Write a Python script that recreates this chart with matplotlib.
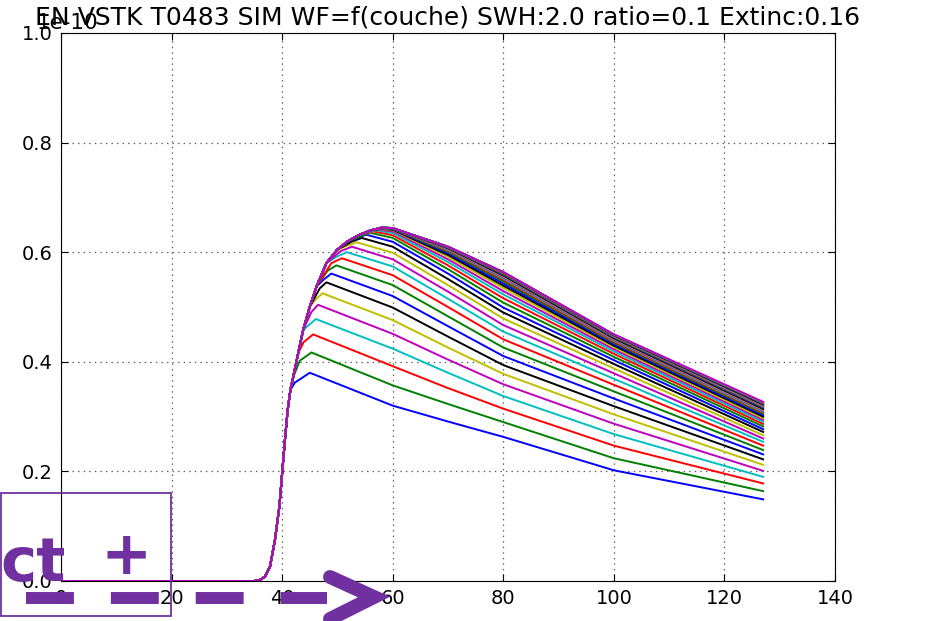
import matplotlib
matplotlib.use("Agg")
import matplotlib.pyplot as plt
from matplotlib.lines import Line2D
from matplotlib.patches import Rectangle

plt.rcParams['axes.unicode_minus'] = False
plt.rcParams['lines.scale_dashes'] = False

# leading edge shared by every layer waveform (gate index, amplitude in 1e-10)
edge_x = [0, 35, 36, 36.9, 37.8, 38.7, 39.5, 40.0, 40.5, 41.0, 41.5, 42.0, 42.9, 43.8,
          45.0, 46.2, 48.0, 49.9, 51.7, 53.8, 56.0, 58.0]
edge_y = [0, 0, 0.002, 0.008, 0.026, 0.075, 0.136, 0.197, 0.257, 0.312, 0.349, 0.372, 0.4155, 0.458,
          0.5005, 0.537, 0.580, 0.604, 0.619, 0.631, 0.640, 0.645]

# where each curve bends off the leading edge, and its maximum
knee_x = [42.3, 43.2, 43.9, 44.6, 45.3, 46.0, 46.8, 47.5, 48.2, 48.9, 49.7, 50.6, 51.5, 52.5,
          53.6, 54.4, 55.1, 55.7, 56.0, 56.0, 56.0, 56.0, 56.0, 56.0, 56.0, 56.0, 56.0, 56.0,
          56.0, 56.0, 56.0, 56.0, 56.0, 56.0, 56.0, 56.0, 56.0, 56.0, 56.0, 56.0]
knee_y = [0.362, 0.402, 0.436, 0.465, 0.491, 0.513, 0.534, 0.550, 0.566, 0.580, 0.591, 0.602,
          0.611, 0.619, 0.626, 0.630, 0.634, 0.637, 0.6395, 0.640, 0.640, 0.640, 0.640, 0.640,
          0.640, 0.640, 0.640, 0.640, 0.640, 0.640, 0.640, 0.640, 0.640, 0.640, 0.640, 0.640,
          0.640, 0.640, 0.640, 0.640]
peak_x = [45.0, 45.3, 45.6, 46.1, 46.5, 47.3, 48.0, 48.9, 49.8, 50.8, 51.7, 52.6, 53.5, 54.4,
          55.2, 55.9, 56.5, 57.0, 57.4, 57.7, 57.9, 58.0, 58.0, 58.0, 58.0, 58.0, 58.0, 58.0,
          58.0, 58.0, 58.0, 58.0, 58.0, 58.0, 58.0, 58.0, 58.0, 58.0, 58.0, 58.0]
peak_y = [0.380, 0.417, 0.450, 0.478, 0.504, 0.525, 0.545, 0.561, 0.576, 0.589, 0.600, 0.610,
          0.618, 0.626, 0.632, 0.6355, 0.638, 0.640, 0.641, 0.642, 0.6425, 0.643, 0.6433, 0.6436,
          0.6438, 0.644, 0.6442, 0.6444, 0.6445, 0.6446, 0.6447, 0.6448, 0.6449, 0.645, 0.645,
          0.645, 0.645, 0.645, 0.645, 0.645]

# trailing edge samples, one list per gate
tail_x = [60, 70, 80, 100, 127]
y_60 = [0.320, 0.357, 0.392, 0.424, 0.451, 0.476, 0.499, 0.520, 0.540, 0.558, 0.574, 0.587,
        0.599, 0.610, 0.619, 0.626, 0.631, 0.635, 0.638, 0.640, 0.641, 0.642, 0.6425, 0.643,
        0.643, 0.643, 0.6435, 0.6435, 0.6435, 0.6435, 0.644, 0.644, 0.644, 0.644, 0.644, 0.644,
        0.644, 0.644, 0.644, 0.644]
y_70 = [0.291, 0.323, 0.352, 0.380, 0.404, 0.426, 0.446, 0.465, 0.483, 0.500, 0.515, 0.528,
        0.540, 0.551, 0.561, 0.569, 0.576, 0.582, 0.587, 0.5915, 0.595, 0.598, 0.6005, 0.6025,
        0.604, 0.6053, 0.6064, 0.6073, 0.608, 0.6085, 0.609, 0.6093, 0.6096, 0.6098, 0.610,
        0.610, 0.610, 0.610, 0.610, 0.610]
y_80 = [0.263, 0.290, 0.3145, 0.3375, 0.359, 0.378, 0.394, 0.4105, 0.426, 0.441, 0.455, 0.467,
        0.479, 0.490, 0.499, 0.508, 0.516, 0.523, 0.529, 0.5345, 0.539, 0.543, 0.5465, 0.5495,
        0.552, 0.5542, 0.556, 0.5575, 0.5588, 0.560, 0.561, 0.5618, 0.5624, 0.5628, 0.5631,
        0.5633, 0.5635, 0.5636, 0.5637, 0.5638]
y_100 = [0.202, 0.224, 0.247, 0.268, 0.287, 0.304, 0.319, 0.333, 0.346, 0.358, 0.369, 0.379,
         0.388, 0.396, 0.403, 0.409, 0.4145, 0.419, 0.423, 0.4265, 0.4295, 0.432, 0.4345, 0.4365,
         0.4385, 0.440, 0.4415, 0.4428, 0.444, 0.445, 0.446, 0.4468, 0.4475, 0.448, 0.4485,
         0.449, 0.4494, 0.4497, 0.450, 0.4502]
y_127 = [0.149, 0.164, 0.178, 0.190, 0.201, 0.212, 0.222, 0.231, 0.239, 0.247, 0.254, 0.260,
         0.266, 0.272, 0.277, 0.282, 0.2865, 0.2905, 0.294, 0.297, 0.300, 0.3025, 0.305, 0.307,
         0.309, 0.311, 0.3125, 0.314, 0.3155, 0.317, 0.318, 0.319, 0.320, 0.321, 0.322, 0.323,
         0.324, 0.325, 0.326, 0.327]

colors = ['b', 'g', 'r', 'c', 'm', 'y', 'k']
scale = 1e-10

W, H = 930, 621
fig = plt.figure(figsize=(W / 100, H / 100), dpi=100)
ax = fig.add_axes([61 / W, 1 - 581 / H, 774 / W, 548 / H])

tails = [y_60, y_70, y_80, y_100, y_127]
for i in range(len(peak_y)):
    # follow the common leading edge until just before the curve rolls over
    n = 0
    while n < len(edge_x) and edge_x[n] < knee_x[i] - 0.5 and edge_y[n] < knee_y[i]:
        n += 1
    xs = edge_x[:n] + [knee_x[i], peak_x[i]]
    ys = edge_y[:n] + [knee_y[i], peak_y[i]]
    for tx, col in zip(tail_x, tails):
        if tx > peak_x[i]:
            xs.append(tx)
            ys.append(col[i])
    ax.plot(xs, [v * scale for v in ys], color=colors[i % 7], lw=1.4)

ax.set_xlim(0, 140)
ax.set_ylim(0, 1.0 * scale)
ax.set_xticks(range(0, 141, 20))
ax.set_yticks([v * scale for v in [0, 0.2, 0.4, 0.6, 0.8, 1.0]])
ax.grid(True, color='0.35', linestyle=(0, (1, 3)), linewidth=0.9)
ax.tick_params(direction='in', top=True, right=True, labelsize=14, length=5, pad=6)
ax.yaxis.get_offset_text().set_fontsize(15.5)
ax.yaxis.get_offset_text().set_x(-0.031)
ax.set_title('EN VSTK T0483 SIM WF=f(couche) SWH:2.0 ratio=0.1 Extinc:0.16',
             fontsize=18, y=1.0, pad=6)

# purple overlay drawn across the lower left corner
purple = '#7030A0'


def fx(px):
    return px / W


def fy(py):
    return 1 - py / H


fig.add_artist(Rectangle((fx(0.5), fy(616)), fx(170), 123 / H, transform=fig.transFigure,
                         fill=False, edgecolor=purple, lw=1.3))
fig.text(fx(0), fy(581), 'ct', color=purple, fontsize=44, fontweight='bold',
         family='DejaVu Sans', va='baseline', ha='left')
fig.text(fx(126), fy(558), '+', color=purple, fontsize=44, fontweight='bold',
         family='DejaVu Sans', va='center', ha='center')
fig.add_artist(Line2D([fx(26), fx(327)], [fy(598), fy(598)], transform=fig.transFigure,
                      color=purple, lw=8.6, linestyle=(0, (34.5, 26.6)), dash_capstyle='butt'))
fig.add_artist(Line2D([fx(330), fx(374), fx(330)], [fy(577), fy(597), fy(619)],
                      transform=fig.transFigure, color=purple, lw=10,
                      solid_capstyle='round', solid_joinstyle='miter'))

fig.savefig('out.png', dpi=100, facecolor='white')
